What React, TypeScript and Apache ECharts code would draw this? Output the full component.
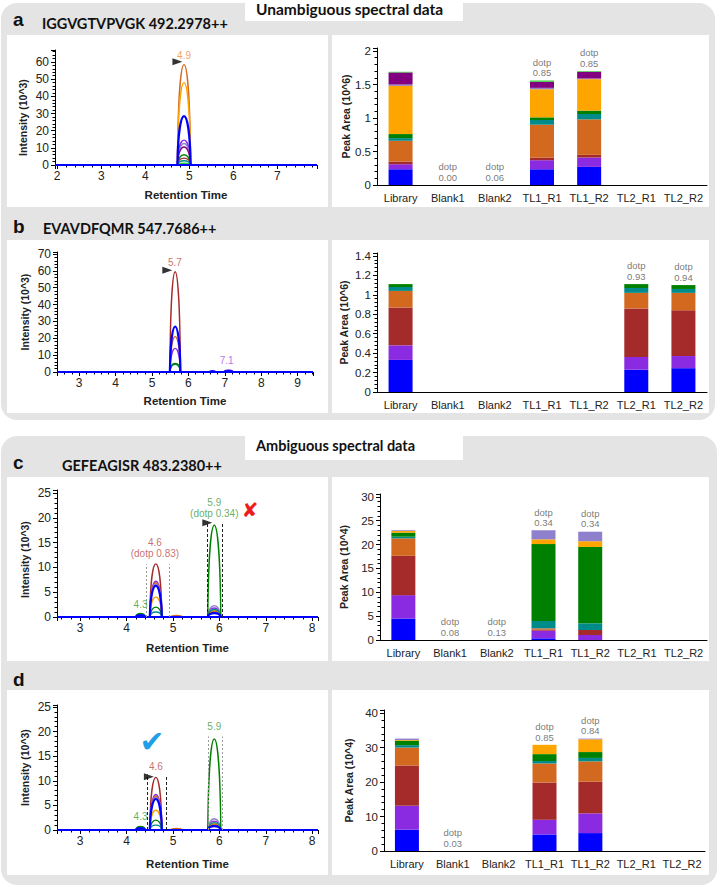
import React, { useEffect, useRef } from 'react';
import * as echarts from 'echarts';

const FONT = '"Liberation Sans", Arial, sans-serif';
const TFONT = 'Lato, "Open Sans", sans-serif';

const categories = ['Library', 'Blank1', 'Blank2', 'TL1_R1', 'TL1_R2', 'TL2_R1', 'TL2_R2'];

// fragment-ion colours, stack order bottom -> top
const ionColors = ['#0000FF', '#8A2BE2', '#A52A2A', '#D2691E', '#008B8B', '#008000', '#FFA500', '#8E80CC', '#800080', '#32CD32'];

// ---------- peak areas (one row per ion colour) ----------
const aBars = [
  [0.235, 0, 0, 0.235, 0.27, 0, 0],
  [0.075, 0, 0, 0.135, 0.14, 0, 0],
  [0.04, 0, 0, 0.04, 0.04, 0, 0],
  [0.31, 0, 0, 0.49, 0.53, 0, 0],
  [0.04, 0, 0, 0.07, 0.08, 0, 0],
  [0.06, 0, 0, 0.04, 0.05, 0, 0],
  [0.72, 0, 0, 0.42, 0.47, 0, 0],
  [0.02, 0, 0, 0.02, 0.01, 0, 0],
  [0.18, 0, 0, 0.09, 0.10, 0, 0],
  [0.01, 0, 0, 0.02, 0.01, 0, 0],
];
const aDotp = ['', '0.00', '0.06', '0.85', '0.85', '', ''];

const bBars = [
  [0.33, 0, 0, 0, 0, 0.23, 0.245],
  [0.15, 0, 0, 0, 0, 0.13, 0.125],
  [0.39, 0, 0, 0, 0, 0.50, 0.47],
  [0.17, 0, 0, 0, 0, 0.16, 0.18],
  [0.04, 0, 0, 0, 0, 0.05, 0.04],
  [0.03, 0, 0, 0, 0, 0.04, 0.04],
];
const bDotp = ['', '', '', '', '', '0.93', '0.94'];

const cBars = [
  [4.5, 0, 0, 0.35, 0, 0, 0],
  [4.9, 0, 0, 1.6, 1.05, 0, 0],
  [8.25, 0, 0, 0.25, 1.05, 0, 0],
  [3.65, 0, 0, 0.25, 0, 0, 0],
  [0.35, 0, 0, 1.55, 1.4, 0, 0],
  [0.85, 0, 0, 16.1, 16.0, 0, 0],
  [0.35, 0, 0, 1.0, 1.2, 0, 0],
  [0.15, 0, 0, 1.9, 2.0, 0, 0],
];
const cDotp = ['', '0.08', '0.13', '0.34', '0.34', '', ''];

const dBars = [
  [6.2, 0, 0, 4.8, 5.2, 0, 0],
  [6.9, 0, 0, 4.3, 5.7, 0, 0],
  [11.7, 0, 0, 10.8, 9.2, 0, 0],
  [5.2, 0, 0, 5.5, 5.9, 0, 0],
  [0.7, 0, 0, 0.7, 1.0, 0, 0],
  [1.3, 0, 0, 2.0, 1.7, 0, 0],
  [0.2, 0, 0, 2.7, 3.7, 0, 0],
  [0.4, 0, 0, 0, 0.2, 0, 0],
];
const dDotp = ['', '0.03', '', '0.85', '0.84', '', ''];

// ---------- chromatograms: peaks [start, end] (retention time) and apex heights per trace ----------
const aPeakRT = [[4.73, 5.03]];
const aTraceColors = ['#D2691E', '#FFA500', '#8A2BE2', '#8E80CC', '#800080', '#008000', '#A52A2A', '#008B8B', '#32CD32', '#0000FF'];
const aTraceHeights = [[58.5], [48], [14.5], [12.5], [10.5], [6], [4], [2.5], [1], [28.5]];

const bPeakRT = [[5.49, 5.78], [6.58, 6.74], [6.98, 7.22]];
const bTraceColors = ['#A52A2A', '#D2691E', '#8A2BE2', '#008B8B', '#008000', '#0000FF'];
const bTraceHeights = [[59.5, 0, 0.3], [21, 0, 0], [14, 0, 1.2], [4.5, 0, 0], [5, 0, 0], [27, 0.5, 0.5]];

const cPeakRT = [[4.2, 4.4], [4.5, 4.76], [4.95, 5.2], [5.75, 6.03]];
const cTraceColors = ['#A52A2A', '#8A2BE2', '#D2691E', '#8E80CC', '#FFA500', '#008B8B', '#008000', '#0000FF'];
const cTraceHeights = [
  [0, 10.7, 0, 1.2],
  [0, 7.2, 0, 1.8],
  [0.3, 6.9, 0.3, 0.9],
  [0, 6.6, 0, 2.3],
  [0, 4.0, 0, 1.3],
  [0.5, 1.0, 0, 1.5],
  [0.7, 2.0, 0, 18.5],
  [0.4, 6.3, 0, 0.8],
];

// annotations [rt, intensity, text, colour]
const aLabels = [[4.88, 58.5, '4.9', '#EE8A3A']];
const aArrows = [[4.73, 60.2]];
const bLabels = [[5.63, 59.5, '5.7', '#B84A4A'], [7.05, 1.2, '7.1', '#A050E8']];
const bArrows = [[5.42, 60.4]];
const cLabels = [[4.3, 0.8, '4.3', '#3A9A3A'], [4.61, 10.9, '4.6\n(dotp 0.83)', '#B84A4A'], [5.89, 19.0, '5.9\n(dotp 0.34)', '#3A9A3A']];
const cArrows = [[5.74, 19.0]];
const cBlackLines = [[5.74, 19.2], [6.07, 19.0]];
const cGrayLines = [[4.43, 10.6], [4.91, 10.6]];
const dLabels = [[4.3, 1.0, '4.3', '#3A9A3A'], [4.63, 11.0, '4.6', '#B84A4A'], [5.89, 19.3, '5.9', '#3A9A3A']];
const dArrows = [[4.48, 10.8]];
const dBlackLines = [[4.45, 11.3], [4.85, 10.8]];
const dGrayLines = [[5.77, 19.0], [6.06, 19.0]];

const isMult = (v: number, s: number) => Math.abs(v / s - Math.round(v / s)) < 1e-6;
const fmt = (v: number) => String(parseFloat(v.toFixed(3)));

const axisLine = { onZero: false, lineStyle: { color: '#000', width: 1 } };
const nameStyle = (size: number, shift = 0) => ({
  fontFamily: FONT, fontWeight: 'bold', fontSize: size, color: '#222',
  padding: shift ? [0, shift * 2, 0, 0] : 0,
});

function chromX(g: number, min: number, max: number, nameGap: number) {
  return {
    type: 'value', gridIndex: g, min, max, splitNumber: 6,
    name: 'Retention Time', nameLocation: 'middle', nameGap, nameTextStyle: nameStyle(11.5),
    axisLine, axisTick: { length: 4, lineStyle: { color: '#000' } },
    minorTick: { show: true, splitNumber: 5, length: 2.5, lineStyle: { color: '#000' } },
    axisLabel: { fontFamily: FONT, fontSize: 12, color: '#222', margin: 5, formatter: (v: number) => (isMult(v, 1) ? fmt(v) : '') },
    splitLine: { show: false },
  };
}
function valueY(g: number, max: number, interval: number, name: string, nameGap: number, fontSize: number, shift = 0) {
  return {
    type: 'value', gridIndex: g, min: 0, max, interval,
    name, nameLocation: 'middle', nameGap, nameRotate: 90, nameTextStyle: nameStyle(10.5, shift),
    axisLine: { show: true, ...axisLine }, axisTick: { show: true, length: 4, lineStyle: { color: '#000' } },
    minorTick: { show: true, splitNumber: 5, length: 2.5, lineStyle: { color: '#000' } },
    axisLabel: { fontFamily: FONT, fontSize, color: '#222', margin: 6, formatter: (v: number) => (isMult(v, interval) ? fmt(v) : '') },
    splitLine: { show: false },
  };
}
function catX(g: number) {
  return {
    type: 'category', gridIndex: g, data: categories,
    axisLine, axisTick: { alignWithLabel: true, length: 5, lineStyle: { color: '#000' } },
    axisLabel: { fontFamily: FONT, fontSize: 11, color: '#222', margin: 7, interval: 0 },
    splitLine: { show: false },
  };
}

// each peak is drawn as an arch from its start to its end, reaching its apex height
function traceSeries(g: number, peaks: number[][], colors: string[], heights: number[][], xMin: number, xMax: number) {
  const out: any[] = colors.map((c, i) => {
    const isBlue = c === '#0000FF';
    const width = isBlue ? 2.2 : 1.4;
    const rows = peaks
      .map((p, j) => [p[0], p[1], heights[i][j]])
      .filter((r) => r[2] > 0);
    return {
      type: 'custom', coordinateSystem: 'cartesian2d', xAxisIndex: g, yAxisIndex: g, silent: true,
      z: isBlue ? 3 : 2, data: rows,
      renderItem: (_params: any, api: any) => {
        const s = api.value(0), e = api.value(1), h = api.value(2);
        const p0 = api.coord([s, 0]);
        const p1 = api.coord([e, 0]);
        const pt = api.coord([s, h]);
        const k = p0[1] + ((pt[1] - p0[1]) * 4) / 3;
        const w = p1[0] - p0[0];
        return {
          type: 'bezierCurve',
          shape: { x1: p0[0], y1: p0[1], x2: p1[0], y2: p1[1], cpx1: p0[0] + 0.08 * w, cpy1: k, cpx2: p1[0] - 0.08 * w, cpy2: k },
          style: { stroke: c, fill: 'none', lineWidth: width },
        };
      },
    };
  });
  out.push({
    type: 'line', xAxisIndex: g, yAxisIndex: g, data: [[xMin, 0], [xMax, 0]], showSymbol: false, symbol: 'none',
    silent: true, z: 4, lineStyle: { color: '#0000FF', width: 2.2 },
  });
  return out;
}

function vLines(lines: number[][], color: string, type: any) {
  return {
    symbol: ['none', 'none'], silent: true, label: { show: false },
    lineStyle: { color, type, width: 1 },
    data: lines.map(([x, top]) => [{ coord: [x, 0] }, { coord: [x, top] }]),
  };
}

function annoSeries(g: number, labels: any[], arrows: number[][], black: number[][] | null, gray: number[][] | null) {
  const lab: any = {
    type: 'scatter', xAxisIndex: g, yAxisIndex: g, symbolSize: 1, silent: true, z: 6,
    itemStyle: { color: 'rgba(0,0,0,0)' },
    label: { show: true, position: 'top', distance: 3, fontFamily: FONT, fontSize: 10, lineHeight: 11 },
    data: labels.map(([x, y, t, col]) => ({ value: [x, y], label: { formatter: t, color: col } })),
  };
  if (gray) lab.markLine = vLines(gray, '#9a9a9a', [2, 2]);
  const arr: any = {
    type: 'scatter', xAxisIndex: g, yAxisIndex: g, symbol: 'triangle', symbolRotate: -90, symbolSize: [7, 10],
    silent: true, z: 6, itemStyle: { color: '#000' }, data: arrows,
  };
  if (black) arr.markLine = vLines(black, '#222', [3, 2]);
  return [lab, arr];
}

function barSeries(g: number, rows: number[][], dotp: string[]) {
  const s: any[] = rows.map((row, i) => ({
    type: 'bar', xAxisIndex: g, yAxisIndex: g, stack: 'st' + g, barWidth: 24, silent: true,
    data: row, itemStyle: { color: ionColors[i] },
  }));
  const totals = categories.map((_, k) => rows.reduce((acc, r) => acc + r[k], 0));
  s.push({
    type: 'scatter', xAxisIndex: g, yAxisIndex: g, symbolSize: 1, silent: true, z: 6,
    itemStyle: { color: 'rgba(0,0,0,0)' },
    label: { show: true, position: 'top', distance: 2, fontFamily: FONT, fontSize: 9.5, lineHeight: 10.5, color: '#555' },
    data: categories
      .map((c, k) => (dotp[k] ? { value: [c, totals[k]], label: { formatter: 'dotp\n' + dotp[k] } } : null))
      .filter(Boolean),
  });
  return s;
}

function txt(text: string, x: number, y: number, size: number, font = TFONT, extra: any = {}) {
  return {
    type: 'text', x, y, z: 20,
    style: { text, fontFamily: font, fontWeight: 'bold', fontSize: size, fill: '#111', verticalAlign: 'middle', align: 'left', ...extra },
  };
}
function box(x: number, y: number, w: number, h: number, fill: string, z: number, r = 0) {
  return { type: 'rect', z, shape: { x, y, width: w, height: h, r }, style: { fill } };
}

function buildOption() {
  const GRAY = '#e4e4e4';
  const grids = [
    { left: 55, top: 50, width: 262, height: 115 },
    { left: 377, top: 48, width: 330, height: 137 },
    { left: 57, top: 252, width: 256, height: 120 },
    { left: 377, top: 253, width: 330, height: 139 },
    { left: 57, top: 490, width: 261, height: 127 },
    { left: 380, top: 494, width: 327, height: 146 },
    { left: 57, top: 705, width: 261, height: 125 },
    { left: 384, top: 710, width: 321, height: 141 },
  ].map((g) => ({ ...g, outerBoundsMode: 'none', containLabel: false }));

  const xAxis = [
    chromX(0, 1.95, 7.9, 24), catX(1),
    chromX(2, 2.39, 9.42, 23), catX(3),
    chromX(4, 2.5, 8.125, 25), catX(5),
    chromX(6, 2.5, 8.125, 28), catX(7),
  ];
  const yAxis = [
    valueY(0, 67, 10, 'Intensity (10^3)', 27, 12, 10),
    valueY(1, 2.045, 0.5, 'Peak Area (10^6)', 26, 11.5),
    valueY(2, 71.2, 10, 'Intensity (10^3)', 27, 12),
    valueY(3, 1.43, 0.2, 'Peak Area (10^6)', 28, 11.5),
    valueY(4, 25.6, 5, 'Intensity (10^3)', 27, 12, 6),
    valueY(5, 30.6, 5, 'Peak Area (10^4)', 31, 11.5),
    valueY(6, 25.4, 5, 'Intensity (10^3)', 27, 12),
    valueY(7, 40.9, 10, 'Peak Area (10^4)', 30, 11.5),
  ];

  const series = [
    ...traceSeries(0, aPeakRT, aTraceColors, aTraceHeights, 1.95, 7.9),
    ...annoSeries(0, aLabels, aArrows, null, null),
    ...barSeries(1, aBars, aDotp),
    ...traceSeries(2, bPeakRT, bTraceColors, bTraceHeights, 2.39, 9.42),
    ...annoSeries(2, bLabels, bArrows, null, null),
    ...barSeries(3, bBars, bDotp),
    ...traceSeries(4, cPeakRT, cTraceColors, cTraceHeights, 2.5, 8.125),
    ...annoSeries(4, cLabels, cArrows, cBlackLines, cGrayLines),
    ...barSeries(5, cBars, cDotp),
    ...traceSeries(6, cPeakRT, cTraceColors, cTraceHeights, 2.5, 8.125),
    ...annoSeries(6, dLabels, dArrows, dBlackLines, dGrayLines),
    ...barSeries(7, dBars, dDotp),
  ];

  const graphic = [
    box(1, 3, 714, 417, GRAY, -10, 16),
    box(1, 436, 716, 449, GRAY, -10, 16),
    box(245, 0, 218, 21, '#fff', -9),
    box(245, 428, 218, 32, '#fff', -9),
    box(7, 35, 321, 172, '#fff', -8), box(332, 35, 377, 172, '#fff', -8),
    box(7, 240, 321, 173, '#fff', -8), box(332, 240, 377, 173, '#fff', -8),
    box(7, 477, 321, 184, '#fff', -8), box(332, 477, 377, 184, '#fff', -8),
    box(7, 690, 321, 185, '#fff', -8), box(332, 690, 377, 185, '#fff', -8),
    txt('Unambiguous spectral data', 256, 9, 15.5),
    txt('Ambiguous spectral data', 256, 445, 14.5),
    txt('a', 13, 19, 19, FONT),
    txt('IGGVGTVPVGK 492.2978++', 42, 23, 14.5),
    txt('b', 13, 226, 19, FONT),
    txt('EVAVDFQMR 547.7686++', 43, 228, 14.5),
    txt('c', 13, 462, 19, FONT),
    txt('GEFEAGISR 483.2380++', 62, 465, 14.5),
    txt('d', 13, 679, 19, FONT),
    txt('\u2718', 250, 510, 20, '"DejaVu Sans"', { align: 'center', fill: '#ee1c1c' }),
    txt('\u2714', 152, 741, 30, '"DejaVu Sans"', { align: 'center', fill: '#1e9fe6' }),
  ];

  return {
    animation: false,
    textStyle: { fontFamily: FONT },
    grid: grids,
    xAxis,
    yAxis,
    series,
    graphic,
  };
}

export default function App() {
  const ref = useRef<HTMLDivElement>(null);
  useEffect(() => {
    const chart = echarts.init(ref.current as HTMLDivElement, null, { renderer: 'svg' });
    chart.setOption(buildOption() as any);
    return () => chart.dispose();
  }, []);
  return (
    <div
      ref={ref}
      style={{ position: 'fixed', left: 0, top: 0, width: 720, height: 887, background: '#fff' }}
    />
  );
}
